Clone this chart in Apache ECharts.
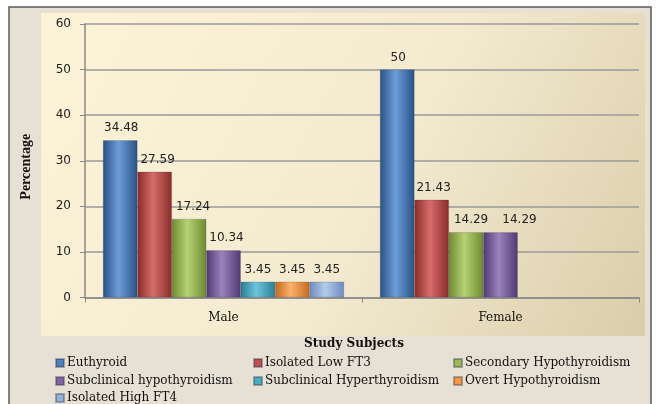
<!DOCTYPE html>
<html>
<head>
<meta charset="utf-8">
<script src="https://cdn.jsdelivr.net/npm/echarts@6/dist/echarts.min.js"></script>
<style>html,body{margin:0;padding:0;background:#fff;}#c{width:657px;height:404px;}</style>
</head>
<body>
<div id="c"></div>
<script>
// ---- data ----
const categories = ['Male', 'Female'];
const seriesNames = ['Euthyroid', 'Isolated Low FT3', 'Secondary Hypothyroidism', 'Subclinical hypothyroidism', 'Subclinical Hyperthyroidism', 'Overt Hypothyroidism', 'Isolated High FT4'];
const euthyroid = [34.48, 50];
const isolatedLowFT3 = [27.59, 21.43];
const secondaryHypo = [17.24, 14.29];
const subclinicalHypo = [10.34, 14.29];
const subclinicalHyper = [3.45, null];
const overtHypo = [3.45, null];
const isolatedHighFT4 = [3.45, null];
const yTicks = [0, 10, 20, 30, 40, 50, 60];

const seriesValues = [euthyroid, isolatedLowFT3, secondaryHypo, subclinicalHypo, subclinicalHyper, overtHypo, isolatedHighFT4];
// base, dark edge, light centre
const palette = [
  ['#4f81bd', '#2a5185', '#6d9dd8'],
  ['#c0504d', '#8a2b29', '#d66d69'],
  ['#9bbb59', '#6c8a32', '#b6d273'],
  ['#8064a2', '#4f3a70', '#9c82be'],
  ['#4bacc6', '#2a7d94', '#6cc5dc'],
  ['#f79646', '#c4691f', '#fbb26c'],
  ['#95b3d7', '#6a8cc0', '#b3cbe8']
];
// horizontal nudge of value labels (per series, per category), styling only
const labelNudge = [[1, 1], [3, 2], [4, 5], [3, 19], [0, 0], [0, 0], [0, 0]];

const chart = echarts.init(document.getElementById('c'));
const serifFont = 'DejaVu Serif';

function grad(p) {
  return new echarts.graphic.LinearGradient(0, 0, 1, 0, [
    {offset: 0, color: p[1]},
    {offset: 0.45, color: p[2]},
    {offset: 1, color: p[1]}
  ]);
}

const series = seriesNames.map((n, i) => ({
  name: n,
  type: 'bar',
  data: seriesValues[i].map((v, j) => ({value: v, label: {offset: [labelNudge[i][j], 0]}})),
  barGap: '0%',
  barCategoryGap: '13%',
  itemStyle: {color: grad(palette[i]), borderColor: 'rgba(40,40,60,0.35)', borderWidth: 0.5},
  label: {show: true, position: 'top', distance: 6, color: '#222', fontFamily: 'DejaVu Sans', fontSize: 12},
  emphasis: {disabled: true}
}));

// legend layout: one legend per item (column x, row y centre)
const legendX = [55, 253, 453];
const legendY = [363, 381, 398];
const legendPos = [[0, 0], [1, 0], [2, 0], [0, 1], [1, 1], [2, 1], [0, 2]];
const legends = seriesNames.map((n, i) => ({
  left: legendX[legendPos[i][0]],
  top: legendY[legendPos[i][1]] - 7,
  padding: 0,
  itemWidth: 8,
  itemHeight: 8,
  icon: 'rect',
  selectedMode: false,
  textStyle: {fontFamily: serifFont, fontSize: 12, color: '#111', padding: [0, 0, 0, -2], lineHeight: 14},
  data: [{name: n, itemStyle: {color: palette[i][0]}}]
}));

chart.setOption({
  backgroundColor: '#ffffff',
  animation: false,
  graphic: [
    {type: 'rect', z: -10, shape: {x: 9, y: 7, width: 642, height: 420},
     style: {fill: '#e6e0d5', stroke: '#5a5a5a', lineWidth: 1.5}},
    {type: 'rect', z: -9, shape: {x: 41, y: 13, width: 604, height: 323},
     style: {fill: new echarts.graphic.LinearGradient(0, 0, 1, 1, [
       {offset: 0, color: '#fcf3d9'},
       {offset: 0.55, color: '#f3ead0'},
       {offset: 1, color: '#dacda9'}
     ])}}
  ],
  legend: legends,
  grid: {left: 85, right: 18, top: 24, bottom: 106.5, containLabel: false},
  xAxis: {
    type: 'category',
    data: categories,
    name: 'Study Subjects',
    nameLocation: 'middle',
    nameGap: 40,
    nameTextStyle: {fontFamily: serifFont, fontWeight: 'bold', fontSize: 12, color: '#111', padding: [0, 16, 0, 0]},
    axisLine: {lineStyle: {color: '#888', width: 1.5}},
    axisTick: {show: true, length: 5, lineStyle: {color: '#888'}},
    axisLabel: {fontFamily: serifFont, fontSize: 12, color: '#111', margin: 14}
  },
  yAxis: {
    type: 'value',
    min: 0, max: 60, interval: 10,
    name: 'Percentage',
    nameLocation: 'middle',
    nameGap: 52,
    nameRotate: 90,
    nameTextStyle: {fontFamily: 'Liberation Serif', fontWeight: 'bold', fontSize: 14, color: '#111', padding: [0, 12, 0, 0]},
    axisLine: {show: true, lineStyle: {color: '#888', width: 1.5}},
    axisTick: {show: true, length: 5, lineStyle: {color: '#888'}},
    axisLabel: {fontFamily: 'DejaVu Sans', fontSize: 12, color: '#222', margin: 14,
      formatter: v => yTicks.includes(v) ? String(v) : ''},
    splitLine: {lineStyle: {color: '#9a9a9a', width: 1.5}}
  },
  series: series
});
</script>
</body>
</html>
